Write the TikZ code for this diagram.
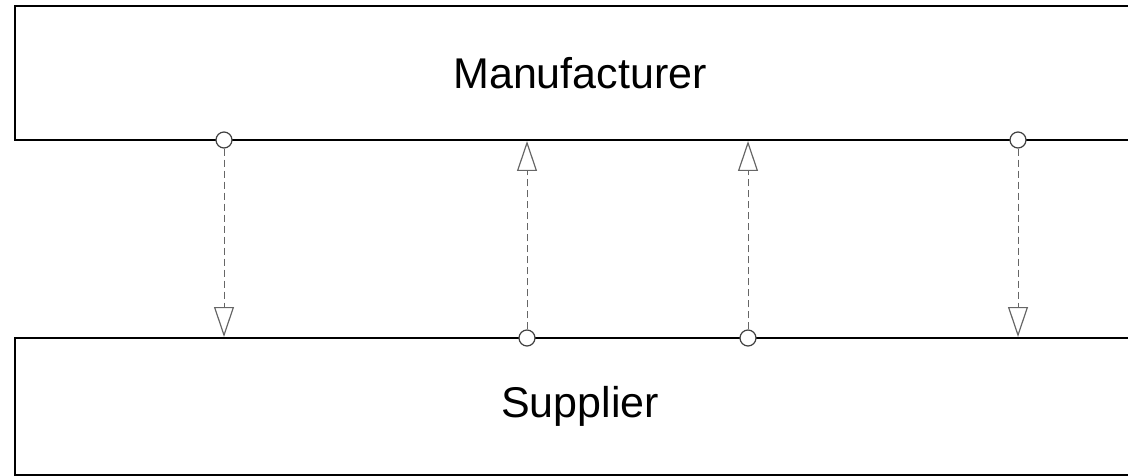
\documentclass[tikz,border=0pt]{standalone}
\usepackage{fontspec}
\setmainfont{Liberation Sans}
\usetikzlibrary{arrows.meta}

\tikzset{
  party/.style={draw, line width=2pt, minimum width=1130pt, inner sep=0pt,
    font=\fontsize{43}{50}\selectfont},
  port/.style={circle, draw=black!75, line width=1.2pt, fill=white,
    inner sep=0pt, minimum size=16pt},
  link/.style={draw=black!60, line width=1pt, dash pattern=on 7pt off 4pt,
    -{Triangle[open, width=20pt, length=30pt, line width=1.2pt]}}
}

\begin{document}
\begin{tikzpicture}[x=1pt, y=-1pt]
            \useasboundingbox (0,0) rectangle (1128,476);
            \node[party, minimum height=134pt] (manufacturer) at (580,73) {Manufacturer};
            \node[party, minimum height=137pt] (supplier) at (580,406.5) {\raisebox{4pt}{Supplier}};
            % manufacturer to supplier
            \foreach \x/\n in {224/a, 1018/d} {
                \node[port] (\n) at (\x,140) {};
                \draw[link] (\n) -- (\n |- supplier.north);
            }
            % supplier to manufacturer
            \foreach \x/\n in {527/b, 748/c} {
                \node[port] (\n) at (\x,338) {};
                \draw[link] (\n) -- (\n |- manufacturer.south);
            }
\end{tikzpicture}
\end{document}
